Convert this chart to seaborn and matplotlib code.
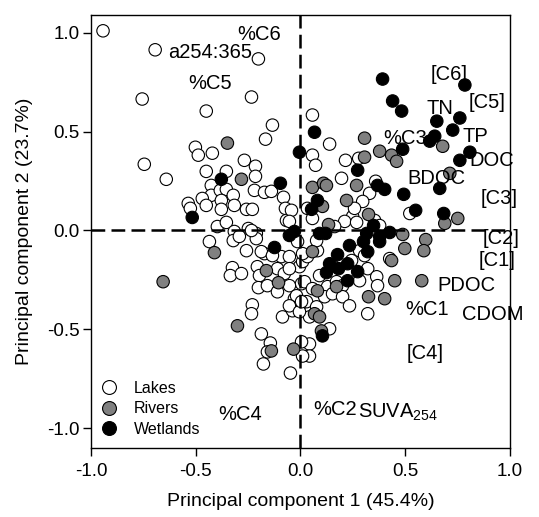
import numpy as np
import pandas as pd
import seaborn as sns
import matplotlib.pyplot as plt
from matplotlib.lines import Line2D

# PCA scores
lakes_x = [-0.943, -0.694, -0.201, -0.756, -0.234, -0.450, -0.134, -0.167, -0.502, -0.488,
           -0.421, -0.746, -0.641, -0.450, -0.354, -0.268, -0.215, -0.215, -0.426, -0.426,
           -0.383, -0.354, -0.321, -0.220, -0.172, -0.139, -0.469, -0.450, -0.378, -0.378,
           -0.316, -0.258, -0.230, -0.536, -0.526, -0.397, -0.354, -0.316, -0.249, -0.211,
           -0.081, -0.072, -0.067, -0.435, -0.321, -0.258, -0.211, -0.172, -0.091, -0.325,
           -0.335, -0.282, -0.206, -0.196, -0.110, -0.077, -0.201, -0.158, -0.110, -0.230,
           -0.234, -0.086, -0.187, -0.144, -0.158, -0.177, -0.048, -0.029, -0.005, -0.038,
           -0.005, 0.005, 0.043, 0.043, -0.014, 0.081, 0.077, 0.057, 0.139, 0.057,
           0.072, 0.215, 0.278, 0.196, 0.359, 0.330, 0.297, 0.522, 0.249, 0.211,
           0.268, 0.354, 0.033, 0.057, 0.163, -0.043, -0.053, 0.282, 0.426, 0.244,
           0.306, -0.053, 0.010, 0.033, -0.053, 0.321, 0.282, 0.364, 0.368, 0.091,
           0.129, 0.172, 0.201, -0.053, 0.019, 0.057, -0.019, 0.115, 0.153, 0.201,
           0.234, 0.321, -0.053, 0.029, 0.077, 0.043, -0.005, 0.139, -0.234, -0.292,
           -0.187, -0.134, 0.010, 0.005, 0.005, 0.010, 0.258, 0.378]
lakes_y = [1.010, 0.914, 0.868, 0.665, 0.675, 0.604, 0.533, 0.462, 0.421, 0.381,
           0.391, 0.335, 0.259, 0.299, 0.299, 0.355, 0.325, 0.274, 0.228, 0.178,
           0.203, 0.208, 0.178, 0.203, 0.193, 0.198, 0.162, 0.127, 0.152, 0.107,
           0.127, 0.107, 0.107, 0.137, 0.112, 0.020, 0.041, -0.005, 0.010, -0.015,
           0.168, 0.112, 0.051, -0.056, -0.051, -0.102, -0.041, -0.117, -0.132, -0.188,
           -0.228, -0.218, -0.183, -0.228, -0.193, -0.218, -0.289, -0.279, -0.310, -0.376,
           -0.421, -0.437, -0.523, -0.569, -0.614, -0.675, -0.721, -0.345, -0.381, -0.406,
           -0.183, -0.269, -0.574, -0.635, -0.056, -0.102, -0.051, 0.584, 0.437, 0.381,
           0.330, 0.355, 0.365, 0.264, 0.249, 0.188, 0.147, 0.086, 0.071, 0.046,
           0.041, 0.051, 0.112, 0.061, 0.020, 0.102, 0.046, -0.102, -0.142, -0.152,
           -0.127, -0.132, -0.157, -0.132, -0.193, -0.193, -0.254, -0.234, -0.279, -0.228,
           -0.284, -0.259, -0.279, -0.279, -0.259, -0.294, -0.330, -0.335, -0.320, -0.335,
           -0.381, -0.421, -0.381, -0.360, -0.386, -0.437, -0.411, -0.497, 0.000, -0.030,
           -0.107, -0.127, -0.117, -0.360, -0.563, -0.635, 0.112, 0.025]

rivers_x = [-0.349, -0.282, -0.411, -0.656, -0.163, -0.105, -0.301, -0.139, -0.033, 0.306,
            0.378, 0.435, 0.459, 0.306, 0.268, 0.057, 0.110, 0.124, 0.220, 0.105,
            0.325, 0.134, 0.679, 0.713, 0.751, 0.689, 0.488, 0.598, 0.589, 0.498,
            0.435, 0.057, 0.153, 0.081, 0.172, 0.450, 0.579, 0.402, 0.325, 0.067,
            0.091, 0.100]
rivers_y = [0.442, 0.259, -0.112, -0.259, -0.203, -0.264, -0.482, -0.609, -0.600, 0.467,
            0.401, 0.381, 0.350, 0.371, 0.228, 0.218, 0.239, 0.228, 0.152, 0.122,
            0.081, 0.030, 0.426, 0.289, 0.061, 0.036, -0.020, -0.046, -0.102, -0.091,
            -0.152, -0.107, -0.178, -0.305, -0.284, -0.254, -0.254, -0.345, -0.335, -0.421,
            -0.437, -0.508]

wetlands_x = [-0.378, -0.096, -0.005, -0.517, 0.067, 0.392, 0.440, 0.483, 0.785, 0.761,
              0.651, 0.727, 0.641, 0.617, 0.809, 0.761, 0.488, 0.273, 0.368, 0.402,
              0.493, 0.550, 0.665, 0.684, 0.081, 0.053, 0.349, -0.029, -0.053, 0.091,
              0.120, 0.316, 0.378, 0.426, 0.234, 0.301, 0.378, -0.124, 0.177, 0.225,
              0.139, 0.182, 0.124, 0.225, 0.273, 0.105, 0.321]
wetlands_y = [0.259, 0.239, 0.396, 0.066, 0.497, 0.766, 0.655, 0.604, 0.736, 0.569,
              0.553, 0.508, 0.477, 0.452, 0.396, 0.355, 0.411, 0.305, 0.228, 0.208,
              0.183, 0.102, 0.213, 0.086, 0.152, 0.107, 0.025, -0.005, -0.025, -0.015,
              -0.015, -0.015, -0.030, -0.010, -0.076, -0.056, -0.056, -0.086, -0.122, -0.168,
              -0.168, -0.193, -0.213, -0.254, -0.208, -0.533, -0.107]

# loading labels
var_names = ['%C6', 'a254:365', '%C5', '[C6]', '[C5]', 'TN', 'TP', '%C3', 'DOC', 'BDOC',
             '[C3]', '[C2]', '[C1]', 'PDOC', '%C1', 'CDOM', '[C4]', '%C4', '%C2',
             'SUVA$_{254}$']
var_x = [-0.196, -0.431, -0.431, 0.708, 0.890, 0.665, 0.837, 0.498, 0.914, 0.651,
         0.947, 0.957, 0.938, 0.794, 0.603, 0.919, 0.593, -0.287, 0.163, 0.464]
var_y = [0.989, 0.898, 0.746, 0.787, 0.645, 0.619, 0.477, 0.467, 0.355, 0.264,
         0.162, -0.041, -0.152, -0.279, -0.401, -0.426, -0.624, -0.929, -0.904, -0.919]

df = pd.concat([
    pd.DataFrame({'pc1': lakes_x, 'pc2': lakes_y, 'type': 'Lakes'}),
    pd.DataFrame({'pc1': rivers_x, 'pc2': rivers_y, 'type': 'Rivers'}),
    pd.DataFrame({'pc1': wetlands_x, 'pc2': wetlands_y, 'type': 'Wetlands'}),
], ignore_index=True)
colors = {'Lakes': 'white', 'Rivers': '#808080', 'Wetlands': 'black'}

sns.set_theme(style='ticks')
plt.rcParams['font.family'] = ['Liberation Sans', 'DejaVu Sans']
plt.rcParams['mathtext.default'] = 'regular'
plt.rcParams['axes.unicode_minus'] = False
plt.rcParams['text.color'] = 'black'
plt.rcParams['axes.labelcolor'] = 'black'
plt.rcParams['xtick.color'] = 'black'
plt.rcParams['ytick.color'] = 'black'

fig, ax = plt.subplots(figsize=(5.39, 5.17), dpi=100)
fig.subplots_adjust(left=0.169, right=0.946, bottom=0.1335, top=0.971)

sns.scatterplot(data=df, x='pc1', y='pc2', hue='type', palette=colors, s=80,
                edgecolor='black', linewidth=0.8, legend=False, ax=ax, zorder=2)

ax.axvline(0, color='black', lw=1.8, ls=(0, (5.5, 2.5)), zorder=3)
ax.axhline(0, color='black', lw=1.8, ls=(0, (5.5, 2.5)), zorder=3)

for name, vx, vy in zip(var_names, var_x, var_y):
    ax.text(vx, vy, name, fontsize=14.5, ha='center', va='center', zorder=4)

ax.set_xlim(-1.0, 1.0)
ax.set_ylim(-1.1, 1.09)
ticks = [-1.0, -0.5, 0.0, 0.5, 1.0]
ax.set_xticks(ticks)
ax.set_yticks(ticks)
ax.set_xticklabels([f'{t:.1f}' for t in ticks])
ax.set_yticklabels([f'{t:.1f}' for t in ticks])
ax.tick_params(labelsize=13.5, length=6, width=1, color='black', labelcolor='black')
ax.tick_params(axis='y', pad=2)
ax.tick_params(axis='x', pad=5)
for sp in ax.spines.values():
    sp.set_color('black')
    sp.set_linewidth(1)

ax.set_xlabel('Principal component 1 (45.4%)', fontsize=14, labelpad=9)
ax.set_ylabel('Principal component 2 (23.7%)', fontsize=14, labelpad=10)

handles = [Line2D([], [], ls='', marker='o', markersize=10, markerfacecolor=colors[k],
                  markeredgecolor='black', markeredgewidth=0.8) for k in colors]
ax.legend(handles, list(colors), loc='lower left', bbox_to_anchor=(-0.008, 0.0),
          frameon=False, fontsize=11.5, handlelength=1.2, handletextpad=1.0,
          labelspacing=0.35, borderpad=0.2)

fig.savefig('out.png', dpi=100)
